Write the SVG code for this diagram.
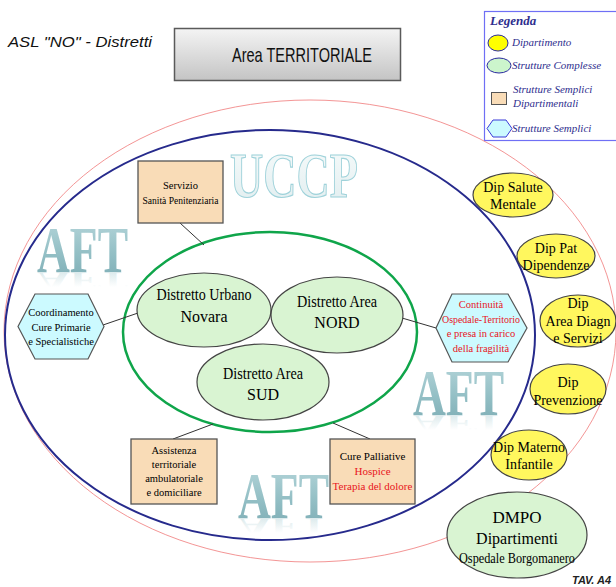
<svg xmlns="http://www.w3.org/2000/svg" xmlns:xlink="http://www.w3.org/1999/xlink" width="616" height="587" viewBox="0 0 616 587">
  <defs>
    <linearGradient id="titleGrad" x1="0" y1="0" x2="0" y2="1">
      <stop offset="0" stop-color="#f4f4f4"/>
      <stop offset="1" stop-color="#c4c4c4"/>
    </linearGradient>
    <linearGradient id="aftGrad" x1="0" y1="0" x2="0" y2="1">
      <stop offset="0" stop-color="#b9d8dc"/>
      <stop offset="0.55" stop-color="#93bfc5"/>
      <stop offset="1" stop-color="#7aaab2"/>
    </linearGradient>
    <linearGradient id="aftFade" x1="0" y1="0" x2="0" y2="1">
      <stop offset="0" stop-color="#9cc4ca" stop-opacity="0"/>
      <stop offset="0.3" stop-color="#9cc4ca" stop-opacity="0"/>
      <stop offset="1" stop-color="#9cc4ca" stop-opacity="0.5"/>
    </linearGradient>
    <linearGradient id="uccpGrad" x1="0" y1="0" x2="0" y2="1">
      <stop offset="0" stop-color="#f7fbfb"/>
      <stop offset="1" stop-color="#e0edef"/>
    </linearGradient>
    <!-- shared watermark word, placed with its baseline at y=0 -->
    <text id="aftWord" x="0" y="0" font-family="Liberation Serif, Times New Roman, serif" font-weight="bold" font-size="65" textLength="91" lengthAdjust="spacingAndGlyphs">AFT</text>
    <style>
      .serif { font-family: "Liberation Serif", "Times New Roman", serif; }
      .sans { font-family: "Liberation Sans", Arial, sans-serif; }
      .link { stroke: #333; stroke-width: 1; fill: none; }
      .dist { fill: #d9f4d2; stroke: #444; stroke-width: 1.2; }
      .dip { fill: #fff75e; stroke: #444; stroke-width: 1.2; }
      .box { fill: #f9dcb7; stroke: #555; stroke-width: 1.3; }
      .hex { fill: #ccfaff; stroke: #555; stroke-width: 1.2; }
      .legtxt { font-family: "Liberation Serif", "Times New Roman", serif; font-style: italic; font-size: 11px; fill: #2e2e8e; }
      .red { fill: #e8141c; }
    </style>
  </defs>

  <rect width="616" height="587" fill="#ffffff"/>

  <!-- heading -->
  <text x="8" y="47" class="sans" font-style="italic" font-size="15" textLength="144" lengthAdjust="spacingAndGlyphs" fill="#111">ASL "NO" - Distretti</text>

  <g id="title">
    <rect x="174.5" y="28.5" width="226" height="52" fill="url(#titleGrad)" stroke="#5a5a5a" stroke-width="1.5"/>
    <text x="302" y="62" class="sans" font-size="21" text-anchor="middle" textLength="140" lengthAdjust="spacingAndGlyphs" fill="#111">Area TERRITORIALE</text>
  </g>

  <!-- key -->
  <g id="legend">
    <rect x="484.5" y="11.5" width="140" height="129" fill="#ffffff" stroke="#6f6ff5" stroke-width="1.2"/>
    <text x="490" y="25" class="serif" font-style="italic" font-weight="bold" font-size="13" fill="#2e2e8e">Legenda</text>
    <ellipse cx="498" cy="43" rx="10" ry="8" fill="#ffff00" stroke="#2b2ba0" stroke-width="1"/>
    <text x="512" y="46" class="legtxt">Dipartimento</text>
    <ellipse cx="499" cy="65.5" rx="12" ry="7.5" fill="#ccf5cc" stroke="#2b2ba0" stroke-width="1"/>
    <text x="512" y="69" class="legtxt">Strutture Complesse</text>
    <rect x="491.5" y="92.5" width="15" height="12" fill="#f9dcb7" stroke="#555" stroke-width="1"/>
    <text x="513" y="93" class="legtxt">Strutture Semplici</text>
    <text x="513" y="107" class="legtxt">Dipartimentali</text>
    <polygon points="493,120 506,120 512,128.5 506,137 493,137 487,128.5" fill="#ccfaff" stroke="#3b3bd8" stroke-width="1"/>
    <text x="512" y="132" class="legtxt">Strutture Semplici</text>
  </g>

  <!-- enclosing areas -->
  <ellipse id="area-outer" cx="310" cy="331" rx="306" ry="231" fill="none" stroke="#f07a7a" stroke-width="0.8"/>
  <ellipse id="area-uccp" cx="270" cy="335" rx="265" ry="205" fill="none" stroke="#262a8c" stroke-width="2"/>

  <!-- background lettering, each AFT with a faded mirror image below -->
  <g id="watermarks">
    <text x="230" y="197" class="serif" font-weight="bold" font-size="63" textLength="128" lengthAdjust="spacingAndGlyphs" fill="url(#uccpGrad)" stroke="#9fd2da" stroke-width="1.2">UCCP</text>

    <use xlink:href="#aftWord" href="#aftWord" transform="translate(37,272)" fill="url(#aftGrad)"/>
    <use xlink:href="#aftWord" href="#aftWord" transform="translate(37,272) scale(1,-0.42)" fill="url(#aftFade)"/>

    <use xlink:href="#aftWord" href="#aftWord" transform="translate(413,415)" fill="url(#aftGrad)"/>
    <use xlink:href="#aftWord" href="#aftWord" transform="translate(413,415) scale(1,-0.42)" fill="url(#aftFade)"/>

    <use xlink:href="#aftWord" href="#aftWord" transform="translate(238,518)" fill="url(#aftGrad)"/>
    <use xlink:href="#aftWord" href="#aftWord" transform="translate(238,518) scale(1,-0.42)" fill="url(#aftFade)"/>
  </g>

  <ellipse id="area-distretti" cx="270" cy="332" rx="147" ry="100" fill="none" stroke="#0fa54a" stroke-width="2.5"/>

  <!-- connectors -->
  <g id="connectors">
    <line class="link" x1="180" y1="223" x2="204" y2="245"/>
    <line class="link" x1="103" y1="325" x2="138" y2="313"/>
    <line class="link" x1="402" y1="318" x2="436" y2="328"/>
    <line class="link" x1="173" y1="439" x2="213" y2="424"/>
    <line class="link" x1="370" y1="439" x2="333" y2="423"/>
  </g>

  <!-- districts -->
  <g id="distretto-urbano">
    <ellipse class="dist" cx="204" cy="310" rx="67" ry="37"/>
    <text class="serif" font-size="16" text-anchor="middle" x="204" y="300" textLength="95" lengthAdjust="spacingAndGlyphs">Distretto Urbano</text>
    <text class="serif" font-size="16" text-anchor="middle" x="204" y="322">Novara</text>
  </g>
  <g id="distretto-nord">
    <ellipse class="dist" cx="337" cy="315" rx="66" ry="38"/>
    <text class="serif" font-size="16" text-anchor="middle" x="337" y="307" textLength="80" lengthAdjust="spacingAndGlyphs">Distretto Area</text>
    <text class="serif" font-size="16" text-anchor="middle" x="337" y="328">NORD</text>
  </g>
  <g id="distretto-sud">
    <ellipse class="dist" cx="263" cy="382" rx="66" ry="38"/>
    <text class="serif" font-size="16" text-anchor="middle" x="263" y="379" textLength="80" lengthAdjust="spacingAndGlyphs">Distretto Area</text>
    <text class="serif" font-size="16" text-anchor="middle" x="263" y="400">SUD</text>
  </g>

  <!-- services -->
  <g id="sanita-penitenziaria">
    <rect class="box" x="138" y="161" width="85" height="62"/>
    <text class="serif" font-size="10.5" text-anchor="middle" x="180.5" y="189">Servizio</text>
    <text class="serif" font-size="10.5" text-anchor="middle" x="180.5" y="204" textLength="76" lengthAdjust="spacingAndGlyphs">Sanità Penitenziaria</text>
  </g>
  <g id="coordinamento">
    <polygon class="hex" points="35,294 88,294 104,326.5 88,359 35,359 18,326.5"/>
    <text class="serif" font-size="10.5" text-anchor="middle" x="61" y="316">Coordinamento</text>
    <text class="serif" font-size="10.5" text-anchor="middle" x="61" y="331">Cure Primarie</text>
    <text class="serif" font-size="10.5" text-anchor="middle" x="61" y="345">e Specialistiche</text>
  </g>
  <g id="continuita">
    <polygon class="hex" points="452,294 508,294 527,328 508,362 452,362 436,328"/>
    <text class="serif red" font-size="10.5" text-anchor="middle" x="481" y="308">Continuità</text>
    <text class="serif red" font-size="10.5" text-anchor="middle" x="481" y="323" textLength="78" lengthAdjust="spacingAndGlyphs">Ospedale-Territorio</text>
    <text class="serif red" font-size="10.5" text-anchor="middle" x="481" y="337">e presa in carico</text>
    <text class="serif red" font-size="10.5" text-anchor="middle" x="481" y="352">della fragilità</text>
  </g>
  <g id="assistenza">
    <rect class="box" x="131" y="439" width="86" height="65"/>
    <text class="serif" font-size="10.5" text-anchor="middle" x="174" y="454">Assistenza</text>
    <text class="serif" font-size="10.5" text-anchor="middle" x="174" y="468">territoriale</text>
    <text class="serif" font-size="10.5" text-anchor="middle" x="174" y="482">ambulatoriale</text>
    <text class="serif" font-size="10.5" text-anchor="middle" x="174" y="496">e domiciliare</text>
  </g>
  <g id="cure-palliative">
    <rect class="box" x="330" y="439" width="85" height="65"/>
    <text class="serif" font-size="11" text-anchor="middle" x="372.5" y="460">Cure Palliative</text>
    <text class="serif red" font-size="11" text-anchor="middle" x="372.5" y="475">Hospice</text>
    <text class="serif red" font-size="11" text-anchor="middle" x="372.5" y="490">Terapia del dolore</text>
  </g>

  <!-- departments -->
  <g id="dip-salute-mentale">
    <ellipse class="dip" cx="513" cy="195" rx="40" ry="22"/>
    <text class="serif" font-size="14" text-anchor="middle" x="513" y="192">Dip Salute</text>
    <text class="serif" font-size="14" text-anchor="middle" x="513" y="209">Mentale</text>
  </g>
  <g id="dip-dipendenze">
    <ellipse class="dip" cx="556" cy="256" rx="39" ry="22"/>
    <text class="serif" font-size="14" text-anchor="middle" x="556" y="253">Dip Pat</text>
    <text class="serif" font-size="14" text-anchor="middle" x="556" y="270">Dipendenze</text>
  </g>
  <g id="dip-area-diagn">
    <ellipse class="dip" cx="578" cy="321" rx="38" ry="26"/>
    <text class="serif" font-size="14" text-anchor="middle" x="578" y="308">Dip</text>
    <text class="serif" font-size="14" text-anchor="middle" x="578" y="326">Area Diagn</text>
    <text class="serif" font-size="14" text-anchor="middle" x="578" y="343">e Servizi</text>
  </g>
  <g id="dip-prevenzione">
    <ellipse class="dip" cx="568" cy="389" rx="38" ry="25"/>
    <text class="serif" font-size="14" text-anchor="middle" x="568" y="387">Dip</text>
    <text class="serif" font-size="14" text-anchor="middle" x="568" y="405">Prevenzione</text>
  </g>
  <g id="dip-materno-infantile">
    <ellipse class="dip" cx="529" cy="455" rx="38" ry="25"/>
    <text class="serif" font-size="14" text-anchor="middle" x="529" y="452">Dip Materno</text>
    <text class="serif" font-size="14" text-anchor="middle" x="529" y="469">Infantile</text>
  </g>
  <g id="dmpo">
    <ellipse class="dist" cx="517" cy="535" rx="70" ry="43"/>
    <text class="serif" font-size="17" text-anchor="middle" x="517" y="523">DMPO</text>
    <text class="serif" font-size="16" text-anchor="middle" x="517" y="544">Dipartimenti</text>
    <text class="serif" font-size="14.5" text-anchor="middle" x="517" y="563" textLength="116" lengthAdjust="spacingAndGlyphs">Ospedale Borgomanero</text>
  </g>

  <text x="572" y="584" class="sans" font-style="italic" font-weight="bold" font-size="11" fill="#222">TAV. A4</text>
</svg>
